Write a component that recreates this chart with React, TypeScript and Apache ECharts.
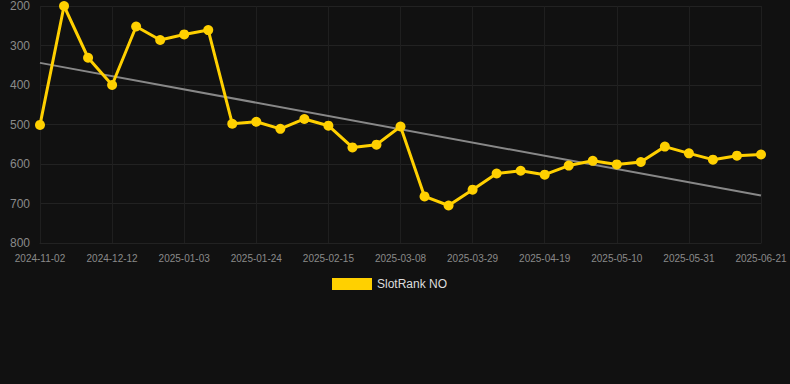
import React, { useEffect, useRef } from "react";
import * as echarts from "echarts";

const categories = [
  "2024-11-02", "2024-11-15", "2024-11-28", "2024-12-12", "2024-12-19", "2024-12-26",
  "2025-01-03", "2025-01-10", "2025-01-17", "2025-01-24", "2025-01-31", "2025-02-07",
  "2025-02-15", "2025-02-22", "2025-03-01", "2025-03-08", "2025-03-15", "2025-03-22",
  "2025-03-29", "2025-04-05", "2025-04-12", "2025-04-19", "2025-04-26", "2025-05-03",
  "2025-05-10", "2025-05-17", "2025-05-24", "2025-05-31", "2025-06-07", "2025-06-14",
  "2025-06-21",
];

const rankValues = [
  501, 200, 331, 400, 252, 286, 272, 261, 498, 493, 511, 486, 503, 558, 551, 505,
  682, 705, 665, 624, 617, 627, 604, 592, 601, 595, 556, 573, 589, 579, 576,
];

const trendStart = 344;
const trendEnd = 680;

const yTicks = { min: 200, max: 800, interval: 100 };

export default function App() {
  const ref = useRef<HTMLDivElement>(null);

  useEffect(() => {
    if (!ref.current) return;
    const chart = echarts.init(ref.current, undefined, { renderer: "svg" });
    const trendData = categories.map((_, i) =>
      i === 0 ? trendStart : i === categories.length - 1 ? trendEnd : null
    );
    chart.setOption({
      animation: false,
      backgroundColor: "#111111",
      grid: { left: 40, right: 29, top: 6, bottom: 141 },
      legend: {
        data: ["SlotRank NO"],
        top: 278,
        left: 332,
        padding: 0,
        itemWidth: 40,
        itemHeight: 12,
        itemGap: 10,
        textStyle: { color: "#dddddd", fontSize: 12, fontFamily: "Arial, Liberation Sans, sans-serif" },
        icon: "rect",
      },
      xAxis: {
        type: "category",
        data: categories,
        boundaryGap: false,
        axisLine: { show: true, lineStyle: { color: "#222222" } },
        axisTick: { show: false },
        axisLabel: {
          interval: 2,
          color: "#8a8a8a",
          fontSize: 10,
          margin: 10,
          fontFamily: "Arial, Liberation Sans, sans-serif",
        },
        splitLine: { show: true, interval: 2, lineStyle: { color: "#1f1f1f" } },
      },
      yAxis: {
        type: "value",
        inverse: true,
        min: yTicks.min,
        max: yTicks.max,
        interval: yTicks.interval,
        axisLine: { show: false },
        axisTick: { show: false },
        axisLabel: {
          color: "#8a8a8a",
          fontSize: 12,
          margin: 10,
          fontFamily: "Arial, Liberation Sans, sans-serif",
        },
        splitLine: { show: true, lineStyle: { color: "#222222" } },
      },
      series: [
        {
          name: "Trend",
          type: "line",
          data: trendData,
          connectNulls: true,
          symbol: "none",
          lineStyle: { color: "#888888", width: 2 },
          z: 1,
        },
        {
          name: "SlotRank NO",
          type: "line",
          data: rankValues,
          symbol: "circle",
          symbolSize: 10,
          itemStyle: { color: "#FFD000" },
          lineStyle: { color: "#FFD000", width: 3 },
          z: 2,
        },
      ],
    });
    return () => chart.dispose();
  }, []);

  return (
    <div
      ref={ref}
      style={{ position: "absolute", left: 0, top: 0, width: 790, height: 384 }}
    />
  );
}
